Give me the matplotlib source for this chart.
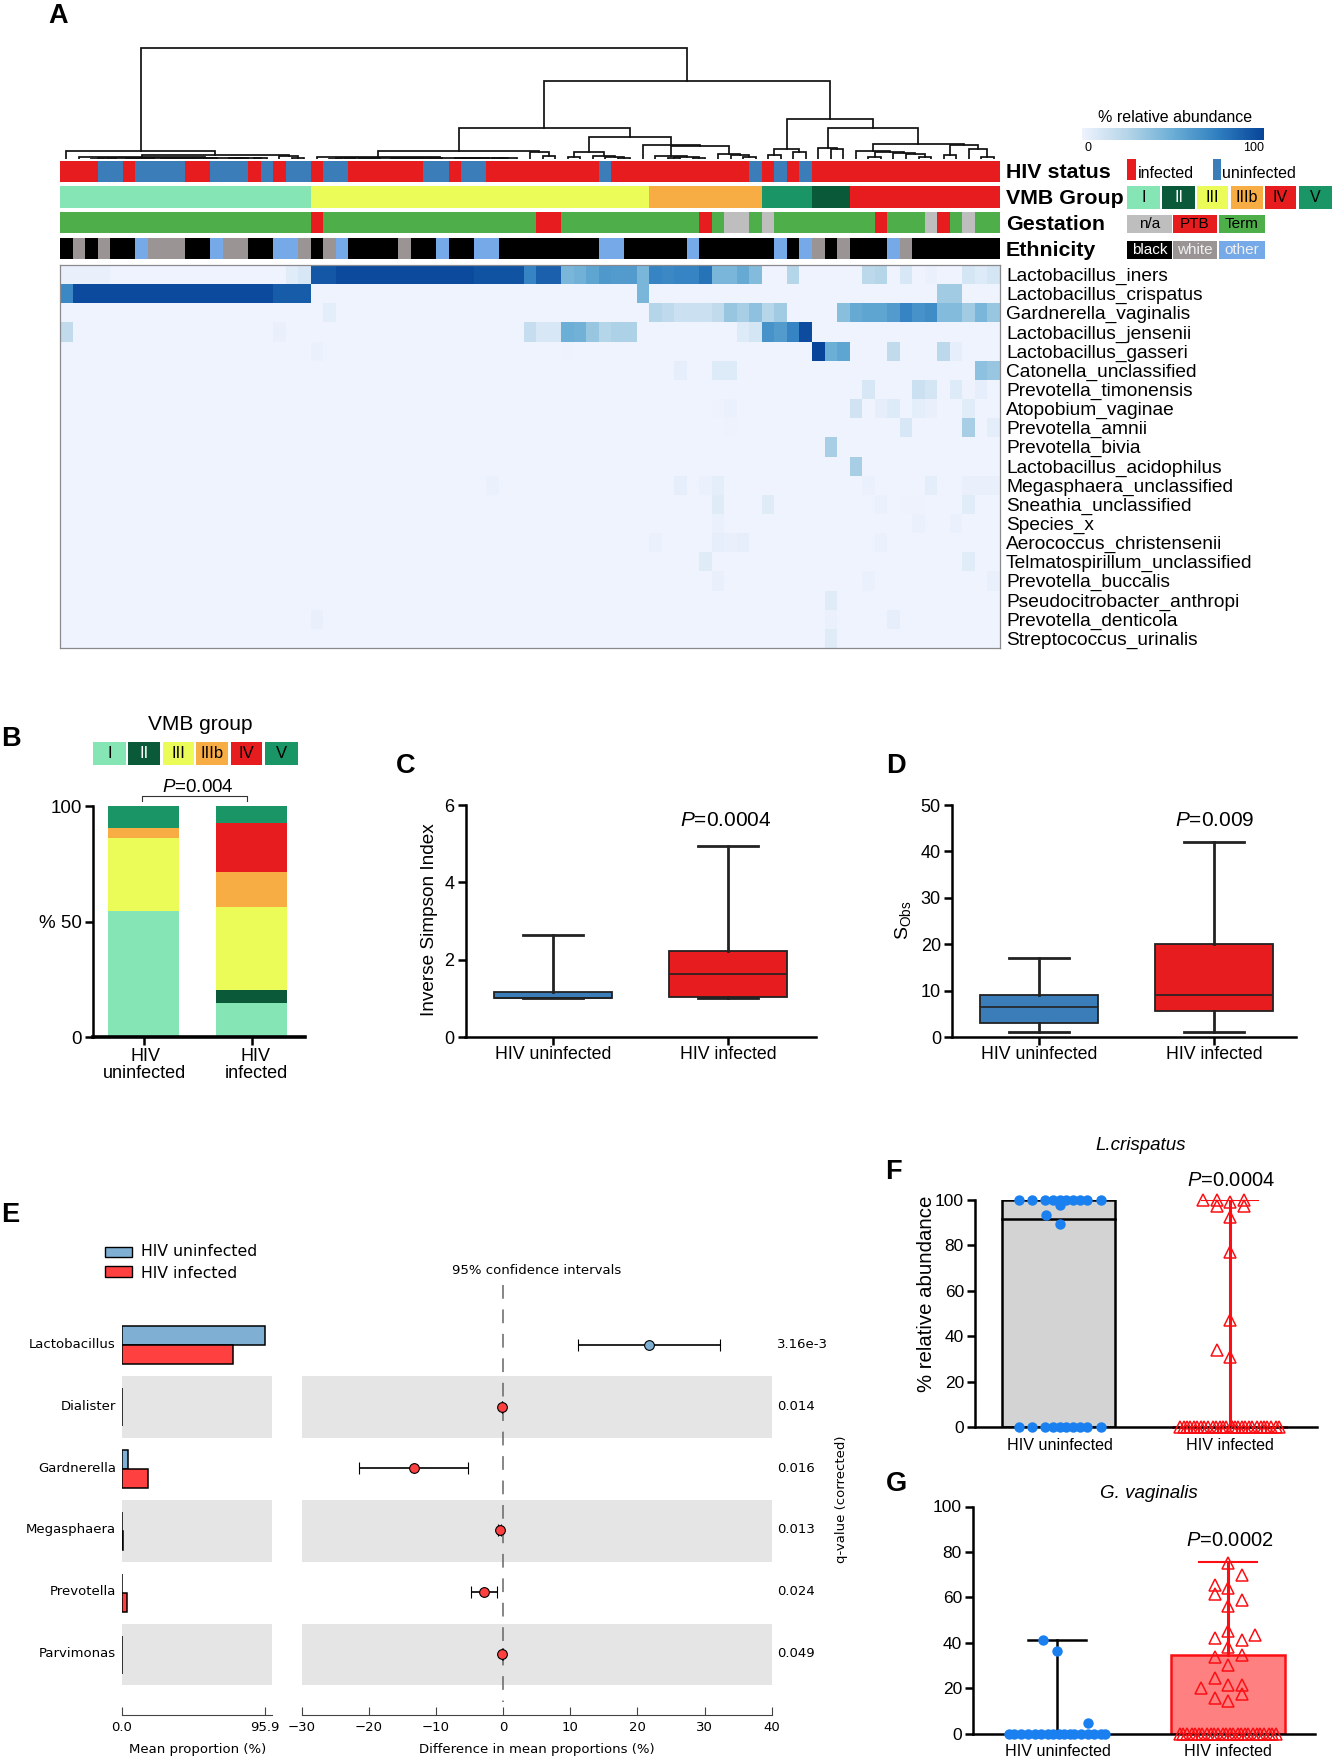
import matplotlib
matplotlib.use("Agg")
import matplotlib.pyplot as plt
from matplotlib.colors import LinearSegmentedColormap
from matplotlib.patches import Rectangle
import numpy as np

W, H = 1335, 1763

plt.rcParams['font.family'] = ['Liberation Sans', 'DejaVu Sans']
plt.rcParams['mathtext.fontset'] = 'custom'
plt.rcParams['mathtext.rm'] = 'Liberation Sans'
plt.rcParams['mathtext.it'] = 'Liberation Sans:italic'

# Colours
RED = '#e71c1e'
BLUE = '#3a7db8'
vmb_colors = {'I': '#86e5b4', 'II': '#0a5a3a', 'III': '#ebfc58',
              'IIIb': '#f8ac44', 'IV': RED, 'V': '#1a9566'}
gest_colors = {'n/a': '#bebebe', 'PTB': RED, 'Term': '#4eae4a'}
eth_colors = {'black': '#000000', 'white': '#9a9494', 'other': '#76a9e8'}
hiv_colors = {'inf': RED, 'un': BLUE}

# Panel A: annotation tracks, as (category, number of samples)
hiv_runs = [('inf', 3), ('un', 2), ('inf', 1), ('un', 4), ('inf', 2), ('un', 3), ('inf', 1),
            ('un', 1), ('inf', 1), ('un', 2), ('inf', 1), ('un', 2), ('inf', 6), ('un', 2),
            ('inf', 1), ('un', 2), ('inf', 9), ('un', 1), ('inf', 11), ('un', 1), ('inf', 1),
            ('un', 1), ('inf', 1), ('un', 1), ('inf', 15)]
vmb_runs = [('I', 20), ('III', 27), ('IIIb', 9), ('V', 4), ('II', 3), ('IV', 12)]
gest_runs = [('Term', 20), ('PTB', 1), ('Term', 17), ('PTB', 2), ('Term', 11), ('PTB', 1),
             ('Term', 1), ('n/a', 2), ('Term', 1), ('n/a', 1), ('Term', 8), ('PTB', 1),
             ('Term', 3), ('n/a', 1), ('PTB', 1), ('Term', 1), ('n/a', 1), ('Term', 2)]
eth_runs = [('black', 1), ('white', 1), ('black', 1), ('white', 1), ('black', 2), ('other', 1),
            ('white', 3), ('black', 2), ('other', 1), ('white', 2), ('black', 2), ('other', 2),
            ('white', 1), ('black', 1), ('white', 1), ('other', 1), ('black', 4), ('white', 1),
            ('black', 2), ('other', 1), ('black', 2), ('other', 2), ('black', 8), ('other', 2),
            ('black', 5), ('other', 1), ('black', 6), ('other', 1), ('black', 1), ('other', 1),
            ('white', 1), ('black', 1), ('white', 1), ('black', 3), ('other', 1), ('white', 1),
            ('black', 7)]

# Panel A: heatmap
taxa = ['Lactobacillus_iners', 'Lactobacillus_crispatus', 'Gardnerella_vaginalis',
        'Lactobacillus_jensenii', 'Lactobacillus_gasseri', 'Catonella_unclassified',
        'Prevotella_timonensis', 'Atopobium_vaginae', 'Prevotella_amnii', 'Prevotella_bivia',
        'Lactobacillus_acidophilus', 'Megasphaera_unclassified', 'Sneathia_unclassified',
        'Species_x', 'Aerococcus_christensenii', 'Telmatospirillum_unclassified',
        'Prevotella_buccalis', 'Pseudocitrobacter_anthropi', 'Prevotella_denticola',
        'Streptococcus_urinalis']
iners = [3, 3, 3, 3, 0, 0, 0, 0, 0, 0, 0, 0, 0, 0, 0, 0, 0, 0, 6, 10,
         92, 92, 98, 98, 98, 98, 98, 98, 98, 98, 98, 98, 98, 94, 94, 94, 94, 72, 88, 88,
         45, 48, 55, 62, 60, 60, 45, 72, 70, 72, 72, 80, 45, 45, 52, 42, 0, 0, 25, 0,
         0, 0, 0, 0, 22, 25, 0, 10, 0, 2, 0, 0, 12, 8, 12]
crispatus = [70, 98, 98, 98, 98, 98, 98, 98, 98, 98, 98, 98, 98, 98, 98, 98, 98, 90, 90, 90]
# remaining rows only list the samples that are not zero: {sample: % abundance}
heat_cells = {
    'Lactobacillus_crispatus': {46: 45, 70: 32, 71: 32},
    'Gardnerella_vaginalis': {21: 5, 47: 25, 48: 21, 49: 16, 50: 16, 51: 16, 52: 20, 53: 35, 54: 30,
                              55: 38, 56: 24, 57: 32, 62: 40, 63: 52, 64: 55, 65: 55, 66: 60,
                              67: 72, 68: 65, 69: 68, 70: 42, 71: 42, 72: 32, 73: 45, 74: 35},
    'Lactobacillus_jensenii': {0: 20, 17: 3, 37: 18, 38: 10, 39: 10, 40: 50, 41: 48, 42: 35, 43: 25,
                               44: 28, 45: 28, 54: 8, 55: 12, 56: 65, 57: 60, 58: 72, 59: 97},
    'Lactobacillus_gasseri': {20: 2, 40: 1, 60: 100, 61: 50, 62: 55, 66: 20, 70: 22, 71: 4},
    'Catonella_unclassified': {49: 4, 52: 8, 53: 8, 73: 38, 74: 35},
    'Prevotella_timonensis': {64: 10, 68: 16, 69: 12, 71: 8, 72: 1, 73: 4},
    'Atopobium_vaginae': {52: 1, 53: 2, 63: 13, 65: 4, 66: 8, 68: 5, 69: 3, 72: 6},
    'Prevotella_amnii': {53: 1, 67: 10, 72: 30, 74: 5},
    'Prevotella_bivia': {61: 30},
    'Lactobacillus_acidophilus': {63: 30},
    'Megasphaera_unclassified': {34: 2, 49: 4, 51: 2, 52: 5, 64: 2, 69: 5, 72: 3, 73: 3, 74: 3},
    'Sneathia_unclassified': {52: 7, 56: 7, 65: 2, 67: 1, 68: 1, 72: 6},
    'Species_x': {52: 2, 68: 2, 71: 2},
    'Aerococcus_christensenii': {47: 2, 52: 4, 53: 3, 54: 4, 65: 2},
    'Telmatospirillum_unclassified': {51: 7, 72: 6},
    'Prevotella_buccalis': {52: 3, 64: 2, 74: 3},
    'Pseudocitrobacter_anthropi': {61: 7},
    'Prevotella_denticola': {20: 3, 61: 2, 66: 4},
    'Streptococcus_urinalis': {61: 7},
}


# Dendrogram: a node is (height, left, right), a leaf is the sample number
def run(first, last, h=1.2):
    if first == last:
        return first
    mid = (first + last) // 2
    return (h, run(first, mid, h * 0.7), run(mid + 1, last, h * 0.7))


tree_left = (8, 0, (4.5, (2.5, 1, (1.5, run(2, 12), run(13, 16))), (3.5, 17, (1.5, 18, 19))))
tree_mid_a = (8, (2, 20, (1.5, run(21, 30), run(31, 36))), (7.3, 37, (3, 38, 39)))
tree_mid_b = (6.7, (2.3, 40, 41), (3, 42, (2, 43, (1.2, 44, 45))))
tree_mid_c = (14, 46, (13, (3, 47, (2.2, (1.5, 48, 49), (1.5, 50, 51))),
                       (5, 52, (3.7, 53, (2.5, 54, 55)))))
tree_right_a = (9.7, (4, 56, 57), (6.7, 58, 59))
tree_right_b = (11, 60, (10, 61, 62))
tree_right_c = (8.3, 63, (7.3, (2.3, 64, 65), (6.3, 66, (5, 67, (2.3, 68, 69)))))
tree_right_d = (13.7, (4, 70, 71), (9.7, 72, (2.3, 73, 74)))
tree = (111, tree_left,
        (78, (31, tree_mid_a, (22.3, tree_mid_b, tree_mid_c)),
         (40, tree_right_a, (31, tree_right_b, (15, tree_right_c, tree_right_d)))))

# Panel B: stacked shares (%)
b_groups = ['I', 'II', 'III', 'IIIb', 'IV', 'V']
b_uninfected = [54.5, 0, 31.5, 4.3, 0, 9.7]
b_infected = [14.7, 5.5, 36.2, 15, 21.1, 7.5]

# Panels C and D: box statistics (low, q1, median, q3, high)
c_uninfected = [1.0, 1.0, 1.0, 1.17, 2.63]
c_infected = [1.0, 1.03, 1.63, 2.22, 4.95]
d_uninfected = [1, 3, 6.5, 9, 17]
d_infected = [1, 5.5, 9, 20, 42]

# Panel E
e_genera = ['Lactobacillus', 'Dialister', 'Gardnerella', 'Megasphaera', 'Prevotella', 'Parvimonas']
e_uninfected = [95.9, 0.2, 4.0, 0.2, 0.3, 0.2]
e_infected = [74.6, 0.1, 17.3, 0.6, 3.7, 0.1]
e_diff = [21.7, -0.15, -13.3, -0.5, -2.9, -0.1]
e_low = [11.2, -0.2, -21.4, -0.7, -4.8, -0.15]
e_high = [32.3, -0.1, -5.3, -0.3, -0.9, -0.05]
e_q = ['3.16e-3', '0.014', '0.016', '0.013', '0.024', '0.049']

# Panel F, points as offset from the group centre and value
row_x = [-0.234, -0.156, -0.078, -0.033, 0.006, 0.043, 0.084, 0.123, 0.166, 0.248]
f_un_x = row_x + row_x + [-0.072, 0.006, 0.006]
f_un_y = [100] * 10 + [0] * 10 + [93.5, 89.5, 98]
f_inf_x = [-0.156, -0.076, -0.076, 0.004, 0.084, 0.084, 0.004, 0.004, 0.004, 0.004, -0.076]
f_inf_y = [100, 100, 97.5, 99, 100, 97.5, 92.5, 77, 47, 31, 34]
f_inf_zero_x = [-0.29, -0.27, -0.25, -0.23, -0.21, -0.19, -0.17, -0.15, -0.13, -0.10, -0.08, -0.06,
                -0.04, -0.02, 0.01, 0.01, 0.03, 0.05, 0.07, 0.09, 0.11, 0.13, 0.16, 0.18, 0.20,
                0.22, 0.24, 0.27, 0.29]
f_top, f_median = 100, 91.7
f_inf_high = 100

# Panel G
g_un_x = [-0.28, -0.25, -0.21, -0.17, -0.13, -0.09, -0.05, -0.02, 0.01, 0.04, 0.08, 0.10,
          0.14, 0.18, 0.22, 0.26, 0.28, -0.08, 0.004, 0.18]
g_un_y = [0] * 17 + [41, 36.5, 4.5]
g_un_high = 41
g_inf_x = [0, 0.084, -0.076, 0, -0.076, 0.084, 0, 0, 0.162, -0.076, 0.084, 0, 0.084, -0.076, 0,
           -0.076, -0.156, 0, 0.084, 0.084, -0.076, 0]
g_inf_y = [75, 70, 65.5, 64, 61.5, 59, 56, 45, 43.5, 42, 41, 38, 34.5, 33.5, 30, 24.5, 20, 21.5,
           21.5, 17.5, 15.5, 14.5]
g_inf_zero_x = [-0.28, -0.26, -0.24, -0.21, -0.19, -0.17, -0.15, -0.12, -0.10, -0.08, -0.06, -0.03,
                -0.01, 0.01, 0.03, 0.06, 0.08, 0.10, 0.12, 0.15, 0.17, 0.19, 0.21, 0.24, 0.26, 0.28]
g_inf_bar, g_inf_high = 34.5, 75.5

fig = plt.figure(figsize=(W / 100, H / 100), dpi=100)


def ax_at(left, top, right, bottom):
    return fig.add_axes([left / W, 1 - bottom / H, (right - left) / W, (bottom - top) / H])


# Overlay in pixel units for the labels and legend tiles
ov = fig.add_axes([0, 0, 1, 1], zorder=10)
ov.set_xlim(0, W)
ov.set_ylim(H, 0)
ov.axis('off')


def label(x, y, s, size=12, ha='left', **kw):
    ov.text(x, y, s, fontsize=size, ha=ha, va='center', **kw)


def tile(x0, x1, y0, y1, color, s, tc='black', size=11.5):
    ov.add_patch(Rectangle((x0, y0), x1 - x0, y1 - y0, color=color, lw=0))
    ov.text((x0 + x1) / 2, (y0 + y1) / 2, s, fontsize=size, color=tc, ha='center', va='center')


for x, y, s in [(58, 16, 'A'), (11, 739, 'B'), (406, 766, 'C'), (896, 766, 'D'),
                (10, 1215, 'E'), (893, 1172, 'F'), (896, 1484, 'G')]:
    label(x, y, s, size=19.5, ha='center', fontweight='bold')


# Dendrogram
def draw_node(ax, node):
    # returns x and height of the node
    if not isinstance(node, tuple):
        return node + 0.5, 0
    h, left, right = node
    xl, hl = draw_node(ax, left)
    xr, hr = draw_node(ax, right)
    ax.plot([xl, xl, xr, xr], [hl, h, h, hr], color='#111111', lw=1.25, solid_joinstyle='miter')
    return (xl + xr) / 2, h


ax = ax_at(60, 40, 1000, 159)
ax.set_xlim(0, 75)
ax.set_ylim(0, 119)
ax.axis('off')
draw_node(ax, tree)


# Annotation tracks
def draw_track(runs, colors, top, bottom):
    ax = ax_at(60, top, 1000, bottom)
    pos = 0
    for cat, n in runs:
        ax.barh(0, n, left=pos, height=1, color=colors[cat], lw=0)
        pos += n
    ax.set_xlim(0, 75)
    ax.set_ylim(-0.5, 0.5)
    ax.axis('off')


draw_track(hiv_runs, hiv_colors, 161, 182)
draw_track(vmb_runs, vmb_colors, 186, 208)
draw_track(gest_runs, gest_colors, 212, 233)
draw_track(eth_runs, eth_colors, 238, 259)

label(1006, 173, 'HIV status', 15.4, fontweight='bold')
label(1006, 199, 'VMB Group', 15.4, fontweight='bold')
label(1006, 225, 'Gestation', 15.4, fontweight='bold')
label(1006, 251, 'Ethnicity', 15.4, fontweight='bold')

ov.add_patch(Rectangle((1127, 159), 9, 21, color=RED, lw=0))
ov.add_patch(Rectangle((1213, 159), 8, 21, color=BLUE, lw=0))
label(1138, 174, 'infected', 11.5)
label(1222, 174, 'uninfected', 11.5)

vmb_tile_x = [(1127, 1160), (1162, 1195), (1197, 1228), (1231, 1263), (1265, 1296), (1299, 1332)]
for (x0, x1), g in zip(vmb_tile_x, b_groups):
    tile(x0, x1, 186, 209, vmb_colors[g], g, 'white' if g == 'II' else 'black')
three_x = [(1127, 1172), (1173, 1217), (1219, 1265)]
for (x0, x1), g in zip(three_x, ['n/a', 'PTB', 'Term']):
    tile(x0, x1, 215, 233, gest_colors[g], g, size=11)
for (x0, x1), g in zip(three_x, ['black', 'white', 'other']):
    tile(x0, x1, 241, 259, eth_colors[g], g, 'white' if g == 'black' else '#f0f0f0', size=11)

# Heatmap
blues = LinearSegmentedColormap.from_list(
    'abund', ['#eff3fe', '#b5d5e8', '#6baed6', '#2f7fc0', '#08459a'])
matrix = np.zeros((len(taxa), 75))
matrix[0] = iners
matrix[1, :len(crispatus)] = crispatus
for name, cells in heat_cells.items():
    for col, val in cells.items():
        matrix[taxa.index(name), col] = val
ax = ax_at(60, 265, 1000, 648)
ax.pcolormesh(np.arange(76), np.arange(21), matrix, cmap=blues, vmin=0, vmax=100)
ax.set_ylim(20, 0)
ax.set_xticks([])
ax.set_yticks([])
for s in ax.spines.values():
    s.set_color('#8a8a8e')
    s.set_linewidth(0.9)
for i, name in enumerate(taxa):
    label(1006, 276.5 + i * 19.15, name, 13.8)

# Colour bar
cax = ax_at(1082, 128, 1264, 140)
cax.imshow(np.linspace(0, 100, 256)[None, :], aspect='auto', cmap=blues, vmin=0, vmax=100)
cax.axis('off')
label(1175, 117, '% relative abundance', 11.5, ha='center')
label(1088, 148, '0', 9, ha='center')
label(1254, 148, '100', 9, ha='center')


# GraphPad style axes shared by panels B, C, D, F, G
def prism_axes(ax, lw=1.8, fs=12.5):
    ax.spines['top'].set_visible(False)
    ax.spines['right'].set_visible(False)
    ax.spines['left'].set_linewidth(lw)
    ax.spines['bottom'].set_linewidth(lw)
    ax.tick_params(width=lw, length=6, labelsize=fs, pad=2)


# Panel B
ax = ax_at(93, 806, 305, 1037)
for x, vals in enumerate([b_uninfected, b_infected]):
    bottom = 0
    for g, v in zip(b_groups, vals):
        ax.bar(x, v, bottom=bottom, width=0.66, color=vmb_colors[g], lw=0)
        bottom += v
ax.set_xlim(-0.468, 1.495)
ax.set_ylim(0, 100)
ax.set_yticks([0, 50, 100])
ax.set_yticklabels(['0', '% 50', '100'])
ax.set_xticks([0, 1])
ax.set_xticklabels(['', ''])
prism_axes(ax, fs=13.5)
ax.spines['bottom'].set_linewidth(2.6)
label(145, 1065, 'HIV\nuninfected', 13, ha='center', linespacing=1.0)
label(256, 1065, 'HIV\ninfected', 13, ha='center', linespacing=1.0)
label(200, 725, 'VMB group', 15, ha='center')
label(198, 788, r'$\mathit{P}$=0.004', 13.5, ha='center')
ov.plot([142, 142, 247, 247], [801, 796, 796, 801], color='#333333', lw=0.8)
legend_x = [(93, 126), (128, 160), (163, 194), (196, 228), (231, 262), (265, 298)]
for (x0, x1), g in zip(legend_x, b_groups):
    tile(x0, x1, 742, 765, vmb_colors[g], g, 'white' if g == 'II' else 'black', size=12)


# Panels C and D
def box_panel(ax, stats, names, ymax, yticks, xlim):
    for x, st, col in zip([0, 1], stats, [BLUE, RED]):
        item = dict(whislo=st[0], q1=st[1], med=st[2], q3=st[3], whishi=st[4], fliers=[])
        ax.bxp([item], positions=[x], widths=0.67, capwidths=0.34, patch_artist=True, showfliers=False,
               boxprops=dict(facecolor=col, edgecolor='#222222', linewidth=1.3),
               medianprops=dict(color='#222222', linewidth=1.2),
               whiskerprops=dict(color='#222222', linewidth=2),
               capprops=dict(color='#222222', linewidth=2), manage_ticks=False)
    ax.set_xlim(*xlim)
    ax.set_ylim(0, ymax)
    ax.set_yticks(yticks)
    ax.set_xticks([0, 1])
    ax.set_xticklabels(names)
    prism_axes(ax, fs=13)
    ax.tick_params(axis='x', pad=0.5, labelsize=12.8)


ax = ax_at(465.5, 805, 816, 1037)
box_panel(ax, [c_uninfected, c_infected], ['HIV uninfected', 'HIV infected'], 6, [0, 2, 4, 6], (-0.5, 1.503))
label(429, 920, 'Inverse Simpson Index', 13.7, ha='center', rotation=90)
label(726, 821, r'$\mathit{P}$=0.0004', 15, ha='center')

ax = ax_at(952, 805, 1296, 1037)
box_panel(ax, [d_uninfected, d_infected], ['HIV uninfected', 'HIV infected'], 50, [0, 10, 20, 30, 40, 50],
          (-0.497, 1.469))
label(903, 920, r'S$_{\mathrm{Obs}}$', 14, ha='center', rotation=90)
label(1215, 820, r'$\mathit{P}$=0.009', 15, ha='center')

# Panel E
E_FONT = 'DejaVu Sans'
row_ylim = (5.97, -1.01)
axl = ax_at(121.8, 1283, 272, 1714.5)
axr = ax_at(301.7, 1283, 771.8, 1714.5)
for a in (axl, axr):
    for i in [1, 3, 5]:
        a.axhspan(i - 0.5, i + 0.5, color='#e5e5e5', lw=0, zorder=0)
    a.set_ylim(*row_ylim)
    a.set_yticks([])
    for s in ['top', 'left', 'right']:
        a.spines[s].set_visible(False)
    a.spines['bottom'].set_color('#444444')
    a.tick_params(axis='x', direction='in', length=6, width=0.8, color='#444444',
                  labelsize=9.5, pad=4.8)
ypos = np.arange(len(e_genera))
axl.barh(ypos - 0.154, e_uninfected, height=0.307, color='#7fb0d3', edgecolor='black', lw=1.1)
axl.barh(ypos + 0.154, e_infected, height=0.307, color='#ff4040', edgecolor='black', lw=1.1)
axl.set_xlim(0, 100.6)
axl.set_xticks([0, 95.9])
axl.set_xticklabels(['0.0', '95.9'], family=E_FONT)
axr.plot([0, 0], [-0.98, 5.77], color='#666666', lw=1.1, dashes=(9, 7))
for i in ypos:
    axr.errorbar(e_diff[i], i - 0.01, xerr=[[e_diff[i] - e_low[i]], [e_high[i] - e_diff[i]]], fmt='o', ms=7,
                 mfc='#7fb0d3' if i == 0 else '#ff4040', mec='black', mew=0.8, ecolor='black',
                 elinewidth=1.2, capsize=4, capthick=1)
axr.set_xlim(-30, 40)
axr.set_xticks(np.arange(-30, 41, 10))
for t in axr.get_xticklabels():
    t.set_family(E_FONT)
for i, (g, q) in enumerate(zip(e_genera, e_q)):
    y = 1345.4 + i * 61.8 - 1
    label(116, y, g, 9.5, ha='right', family=E_FONT)
    label(777, y, q, 9.5, family=E_FONT)
label(197.5, 1749, 'Mean proportion (%)', 9.5, ha='center', family=E_FONT)
label(537, 1749, 'Difference in mean proportions (%)', 9.5, ha='center', family=E_FONT)
label(537, 1271, '95% confidence intervals', 9.5, ha='center', family=E_FONT)
label(842, 1499, 'q-value (corrected)', 9.5, ha='center', rotation=90, family=E_FONT)
ov.add_patch(Rectangle((105, 1247), 27, 10, facecolor='#7fb0d3', edgecolor='black', lw=1))
ov.add_patch(Rectangle((105, 1266), 27, 10.5, facecolor='#ff4040', edgecolor='black', lw=1))
label(141, 1252, 'HIV uninfected', 11.3, family=E_FONT)
label(141, 1273, 'HIV infected', 11.3, family=E_FONT)


# Panels F and G
def dots(ax, x, y):
    ax.plot(x, y, 'o', color='#1a80f0', ms=7.5, mew=0, clip_on=False, zorder=4)


def tris(ax, x, y):
    ax.plot(x, y, '^', mfc='none', mec='#fb0f14', ms=8, mew=1.1, clip_on=False, zorder=4)


def scatter_axes(ax):
    ax.set_xlim(-0.49, 1.51)
    ax.set_ylim(0, 100)
    ax.set_yticks(np.arange(0, 101, 20))
    ax.set_xticks([])
    prism_axes(ax, fs=12.5)
    ax.patch.set_alpha(0)


ax = ax_at(975, 1200, 1317, 1427)
ax.bar(0, f_top, width=0.66, color='#d3d3d3', edgecolor='black', lw=1.8)
ax.plot([-0.33, 0.33], [f_median, f_median], color='black', lw=1.8)
ax.plot([1, 1], [0, f_inf_high], color='#fb0f14', lw=2.2)
ax.plot([0.835, 1.165], [f_inf_high, f_inf_high], color='#fb0f14', lw=1.5)
ax.plot([0.67, 1.33], [0, 0], color='#fb0f14', lw=1.8, clip_on=False)
dots(ax, f_un_x, f_un_y)
tris(ax, 1 + np.array(f_inf_x), f_inf_y)
tris(ax, 1 + np.array(f_inf_zero_x), [0] * len(f_inf_zero_x))
scatter_axes(ax)
label(927, 1294, '% relative abundance', 14.7, ha='center', rotation=90)
label(1141, 1146, 'L.crispatus', 13.5, ha='center', style='italic')
label(1231, 1180, r'$\mathit{P}$=0.0004', 14.5, ha='center')
label(1060, 1446, 'HIV uninfected', 11.6, ha='center')
label(1230, 1446, 'HIV infected', 11.6, ha='center')

ax = ax_at(973, 1506.5, 1315, 1733.5)
ax.bar(1, g_inf_bar, width=0.666, color='#ff8080', edgecolor='#fb0f14', lw=1.8)
ax.plot([0, 0], [0, g_un_high], color='black', lw=1.8)
ax.plot([-0.17, 0.17], [g_un_high, g_un_high], color='black', lw=1.8)
ax.plot([1, 1], [g_inf_bar, g_inf_high], color='#fb0f14', lw=2.2)
ax.plot([0.83, 1.17], [g_inf_high, g_inf_high], color='#fb0f14', lw=1.5)
dots(ax, g_un_x, g_un_y)
tris(ax, 1 + np.array(g_inf_x), g_inf_y)
tris(ax, 1 + np.array(g_inf_zero_x), [0] * len(g_inf_zero_x))
scatter_axes(ax)
label(1149, 1494, 'G. vaginalis', 13.5, ha='center', style='italic')
label(1230, 1541, r'$\mathit{P}$=0.0002', 14.5, ha='center')
label(1058, 1752, 'HIV uninfected', 11.6, ha='center')
label(1228, 1752, 'HIV infected', 11.6, ha='center')

fig.savefig('out.png', dpi=100)
